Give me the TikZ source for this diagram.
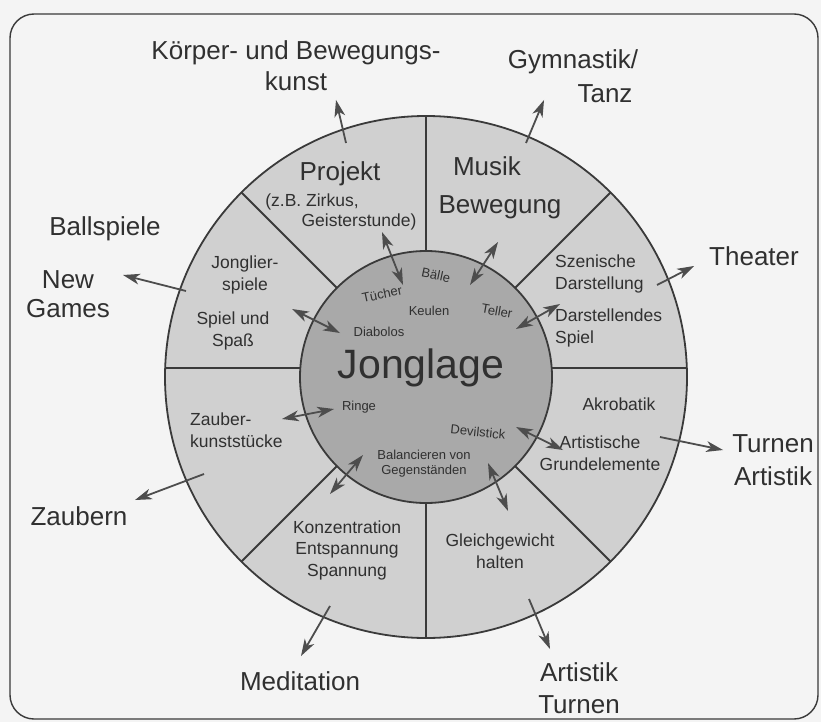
\documentclass[tikz,border=0pt]{standalone}
\usepackage{fontspec}
\setmainfont{Liberation Sans}
\usetikzlibrary{calc}
\definecolor{paper}{HTML}{F4F4F4}
\definecolor{ring}{HTML}{D0D0D0}
\definecolor{core}{HTML}{A9A9A9}
\definecolor{ink}{HTML}{303030}
\definecolor{rule}{HTML}{3A3A3A}
\definecolor{arrowgray}{HTML}{4D4D4D}
% notched arrow head with its tip at #1, pointing away from #2
\newcommand{\tipfill}[2]{%
  \fill[arrowgray] (#1) -- ($(#1)!17pt!(#2)!5.5pt!90:(#2)$) -- ($(#1)!12pt!(#2)$)
    -- ($(#1)!17pt!(#2)!5.5pt!-90:(#2)$) -- cycle;}
\begin{document}
\begin{tikzpicture}[x=1pt,y=-1pt,
  outer/.style={font=\fontsize{26}{31}\selectfont, text=ink, align=center, inner sep=0pt},
  head/.style={font=\fontsize{26}{31}\selectfont, text=ink, inner sep=0pt},
  sector/.style={font=\fontsize{17.5}{21.5}\selectfont, text=ink, align=center, inner sep=0pt},
  tiny/.style={font=\fontsize{13}{15}\selectfont, text=ink, align=center, inner sep=0pt},
  divider/.style={draw=rule, line width=1.8pt},
  shaft/.style={draw=arrowgray, line width=1.8pt}]

% page and frame
\fill[paper] (0,0) rectangle (821,722);
\useasboundingbox (0,0) rectangle (821,722);
\draw[rule, line width=1.4pt, rounded corners=24pt] (10,14) rectangle (818,719);

% rings
\coordinate (C) at (426,377);
\draw[divider, fill=ring] (C) circle[radius=261pt];

% sector dividers
\draw[divider] (426,116) -- (426,251);
\draw[divider] (426,503) -- (426,638);
\draw[divider] (165,368) -- (300,368);
\draw[divider] (552,368) -- (687,368);
\draw[divider] (241.4,192.4) -- (336.9,287.9);
\draw[divider] (610.6,192.4) -- (515.1,287.9);
\draw[divider] (241.4,561.6) -- (336.9,466.1);
\draw[divider] (610.6,561.6) -- (515.1,466.1);

\draw[divider, fill=core] (C) circle[radius=126pt];

% outer labels
\node[outer] (koerper) at (296,66) {Körper- und Bewegungs-\\kunst};
\node[outer] (gym) at (573,62) {Gymnastik/};
\node[outer] (tanz) at (605,94) {Tanz};
\node[outer] (ball) at (105,229) {Ballspiele};
\node[outer, font=\fontsize{26}{29}\selectfont] (newgames) at (68,294) {New\\Games};
\node[outer] (theater) at (754,256) {Theater};
\node[outer, font=\fontsize{26}{33}\selectfont] (turnen) at (773,460) {Turnen\\Artistik};
\node[outer] (zaubern) at (79,516) {Zaubern};
\node[outer] (meditation) at (300,681) {Meditation};
\node[outer, font=\fontsize{26}{32}\selectfont] (artistik) at (579,688) {Artistik\\Turnen};

% sector labels
\node[head] (projekt) at (340,174) {Projekt};
\node[sector] (zirkus) at (312,202) {(z.B. Zirkus,};
\node[sector] (geister) at (359,222) {Geisterstunde)};
\node[head] (musik) at (487,166) {Musik};
\node[head] (bewegung) at (500,207) {Bewegung};
\node[sector, align=left, anchor=west] (szen) at (555,274) {Szenische\\Darstellung};
\node[sector, align=left, anchor=west] (darst) at (555,328) {Darstellendes\\Spiel};
\node[sector] (akro) at (619,404) {Akrobatik};
\node[sector] (artist) at (600,453) {Artistische\\Grundelemente};
\node[sector] (gleich) at (500,551) {Gleichgewicht\\halten};
\node[sector] (konz) at (347,550) {Konzentration\\Entspannung\\Spannung};
\node[sector, align=left, anchor=west] (zauber) at (190,430) {Zauber-\\kunststücke};
\node[sector] (jongl) at (245,275) {Jonglier-\\spiele};
\node[sector] (spiel) at (233,331) {Spiel und\\Spaß};

% core labels
\node[font=\fontsize{41}{41}\selectfont, text=ink, inner sep=0pt] (jonglage) at (421,368) {Jonglage};
\node[tiny, rotate=-12] (baelle) at (436,275) {Bälle};
\node[tiny, rotate=12] (tuecher) at (382,294) {Tücher};
\node[tiny] (keulen) at (429,311) {Keulen};
\node[tiny, rotate=-10] (teller) at (497,311) {Teller};
\node[tiny] (diabolos) at (379,332) {Diabolos};
\node[tiny] (ringe) at (359,407) {Ringe};
\node[tiny, rotate=-6] (devil) at (478,432) {Devilstick};
\node[tiny] (balanc) at (424,464) {Balancieren von\\Gegenständen};

% arrow ends
\coordinate (o1a) at (346,143); \coordinate (o1b) at (336,100);
\coordinate (o2a) at (526,143); \coordinate (o2b) at (544,100);
\coordinate (o3a) at (186,291); \coordinate (o3b) at (123,275);
\coordinate (o4a) at (657,285); \coordinate (o4b) at (694,266);
\coordinate (o5a) at (660,437); \coordinate (o5b) at (723,450);
\coordinate (o6a) at (204,474); \coordinate (o6b) at (135,500);
\coordinate (o7a) at (330,606); \coordinate (o7b) at (301,656);
\coordinate (o8a) at (529,599); \coordinate (o8b) at (550,649);

\coordinate (i1a) at (382,232); \coordinate (i1b) at (403,285);
\coordinate (i2a) at (498,242); \coordinate (i2b) at (470,285);
\coordinate (i3a) at (516,329); \coordinate (i3b) at (560,304);
\coordinate (i4a) at (292,309); \coordinate (i4b) at (340,333);
\coordinate (i5a) at (282,419); \coordinate (i5b) at (334,409);
\coordinate (i6a) at (516,427); \coordinate (i6b) at (563,450);
\coordinate (i7a) at (363,455); \coordinate (i7b) at (330,494);
\coordinate (i8a) at (488,463); \coordinate (i8b) at (508,511);

% outward arrows
\foreach \k in {1,...,8} {
  \draw[shaft, shorten >=10pt] (o\k a) -- (o\k b);
  \tipfill{o\k b}{o\k a}
}
% two-way arrows
\foreach \k in {1,...,8} {
  \draw[shaft, shorten >=10pt, shorten <=10pt] (i\k a) -- (i\k b);
  \tipfill{i\k b}{i\k a}
  \tipfill{i\k a}{i\k b}
}
\end{tikzpicture}
\end{document}
